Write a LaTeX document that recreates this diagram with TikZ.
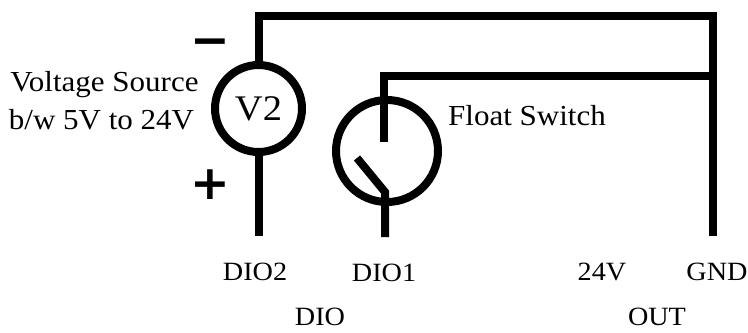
\documentclass[tikz,border=0pt]{standalone}
\usepackage{fontspec}
\setmainfont[FakeStretch=1.07]{Liberation Serif}
\newfontfamily\signfont{DejaVu Sans}
\tikzset{
	wire/.style={line width=0.16cm, color=black},
	ring/.style={circle, draw, line width=0.16cm, inner sep=0, outer sep=0},
	lbl/.style={font=\fontsize{16.5}{18}\selectfont, inner sep=0},
	pin/.style={font=\fontsize{15}{18}\selectfont, inner sep=0},
	sign/.style={font=\signfont\bfseries\fontsize{27}{30}\selectfont, inner sep=0}
}

\begin{document}
\begin{tikzpicture}[x=0.02cm, y=-0.02cm]
	%%%%% START %%%%%
	\useasboundingbox (0, 0) rectangle (748, 332);

	\node[ring, minimum size=1.74cm, font=\fontsize{20.5}{24}\selectfont] (vtwo) at (258.5, 108.5) {V2};
	\node[ring, minimum size=2.04cm] (float) at (387, 151) {};

	\coordinate (topright) at (713, 15.5);
	\coordinate (midright) at (713, 76);
	\coordinate (gndend) at (713, 236);
	\coordinate (dtwoend) at (258.5, 236);
	\coordinate (contact) at (384, 142);
	\coordinate (levertip) at (357, 158);
	\coordinate (leverknee) at (385, 192);
	\coordinate (doneend) at (385, 237);

	\draw[wire] (vtwo.north) |- (topright) -- (gndend);
	\draw[wire] (vtwo.south) -- (dtwoend);
	\draw[wire] (contact) |- (midright);
	\draw[wire] (levertip) -- (leverknee) -- (doneend);

	\node[sign] (minus) at (210, 48) {−};
	\node[sign] (plus) at (210, 184.5) {+};

	\node[lbl] (vsource) at (104.5, 85) {Voltage Source};
	\node[lbl] (vrange) at (101.5, 120) {b/w 5V to 24V};
	\node[lbl] (fswitch) at (527, 116) {Float Switch};

	\node[pin] (dtwo) at (255, 272) {DIO2};
	\node[pin] (done) at (384, 273) {DIO1};
	\node[pin] (vout) at (602, 272) {24V};
	\node[pin] (gnd) at (717, 272) {GND};
	\node[pin] (dio) at (320, 317) {DIO};
	\node[pin] (out) at (657, 317) {OUT};
	%%%%% END %%%%%
\end{tikzpicture}
\end{document}
